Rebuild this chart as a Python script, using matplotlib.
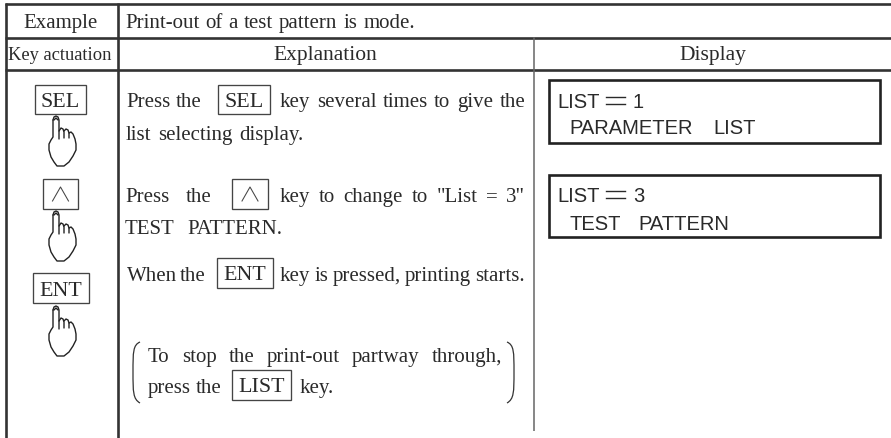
import matplotlib
matplotlib.use("Agg")
import matplotlib.pyplot as plt
from matplotlib.patches import Rectangle, PathPatch
from matplotlib.path import Path

SERIF = "Liberation Serif"
SANS = "Liberation Sans"
INK = "#2a2a2a"

# ---- content -------------------------------------------------------------
header_cells = [("Example", 60, 28, 15), ("Key actuation", 60, 60, 13.3),
                ("Explanation", 325.5, 60, 15.5), ("Display", 713, 60, 15.5)]
title_text = "Print-out of a test pattern is mode."
# text, x start, x end, baseline
body_runs = [
    (title_text, 125, 415, 28),
    ("Press the", 126, 201, 107),
    ("key several times to give the", 280, 525, 107),
    ("list selecting display.", 126, 304, 140),
    ("Press the", 125, 211, 202),
    ('key to change to "List = 3"', 280, 525, 202),
    ("TEST PATTERN.", 125, 282, 234),
    ("When the", 127, 205, 281),
    ("key is pressed, printing starts.", 280, 525, 281),
    ("To stop the print-out partway through,", 148, 502, 362),
    ("press the", 148, 222, 393),
    ("key.", 300, 335, 393),
]
# label, x0, x1, y0, y1
key_boxes = [
    ("SEL", 35, 86, 85, 114), ("^", 43, 78, 179, 209), ("ENT", 33, 89, 273, 303),
    ("SEL", 218, 270, 85, 114), ("^", 232, 268, 179, 209), ("ENT", 217, 273, 258, 288),
    ("LIST", 232, 291, 370, 400),
]
hand_tips = [(56, 117), (56, 212), (56, 307)]
display_boxes = [(549, 880, 80, 143), (549, 880, 175, 237)]
display_runs = [
    ("LIST", 557, 108), ("=", 606, 108), ("1", 633, 108), ("PARAMETER", 569, 134), ("LIST", 713, 134),
    ("LIST", 557, 202), ("=", 606, 202), ("3", 633, 202), ("TEST", 569, 230), ("PATTERN", 638, 230),
]
thick_h = [(5, 891, 4), (5, 891, 37.5), (5, 891, 69.5)]
thick_v = [(6, 3, 438), (118, 3, 438)]
thin_v = [(534, 37, 431)]

hand_outline = [(-3, 3), (-3, 20), (-5, 23), (-7, 27), (-7, 33), (-5, 40), (-2, 45), (1, 49), (8, 49),
                (13, 45), (17, 39), (20, 33), (20, 27), (19, 22), (17, 17), (15, 15), (13, 16), (13, 21)]
hand_finger = [(-3, 3), (-2, 0), (0, -1), (2, 0), (3, 3), (3, 22)]
hand_tip = [(-2, 3), (0, 1), (2, 3)]
hand_k1 = [(3, 14), (5, 11), (7, 12), (8, 15), (8, 21)]
hand_k2 = [(8, 14), (10, 12), (12, 13), (13, 16)]

# ---- figure --------------------------------------------------------------
fig = plt.figure(figsize=(8.91, 4.38), dpi=100)
ax = fig.add_axes([0, 0, 1, 1])
ax.set_xlim(0, 891)
ax.set_ylim(438, 0)
ax.axis("off")
renderer = fig.canvas.get_renderer()


def width_of(s, size, family):
    t = ax.text(0, 0, s, fontsize=size, family=family)
    w = t.get_window_extent(renderer).width
    t.remove()
    return w


def run(s, x0, x1, y, size=15.0, family=SERIF):
    words = s.split(" ")
    widths = [width_of(w, size, family) for w in words]
    gap = (x1 - x0 - sum(widths)) / max(len(words) - 1, 1)
    x = x0
    for w, wd in zip(words, widths):
        ax.text(x, y, w, fontsize=size, family=family, va="baseline", ha="left", color=INK)
        x += wd + gap


for x0, x1, y in thick_h:
    ax.plot([x0, x1], [y, y], color="#333333", lw=1.9, solid_capstyle="butt")
for x, y0, y1 in thick_v:
    ax.plot([x, x], [y0, y1], color="#333333", lw=1.9, solid_capstyle="butt")
for x, y0, y1 in thin_v:
    ax.plot([x, x], [y0, y1], color="#666666", lw=1.1, solid_capstyle="butt")

for s, cx, y, size in header_cells:
    ax.text(cx, y, s, fontsize=size, family=SERIF, ha="center", va="baseline", color=INK)
for s, x0, x1, y in body_runs:
    run(s, x0, x1, y)

for label, x0, x1, y0, y1 in key_boxes:
    ax.add_patch(Rectangle((x0, y0), x1 - x0, y1 - y0, fill=False, ec="#444444", lw=0.95))
    cx, cy = (x0 + x1) / 2, (y0 + y1) / 2
    if label == "^":
        ax.plot([cx - 8, cx, cx + 8], [cy + 7, cy - 7, cy + 7], color="#444444", lw=0.75)
    else:
        ax.text(cx, cy + 7.5, label, fontsize=15.8, family=SERIF, ha="center", va="baseline", color=INK)

for tx, ty in hand_tips:
    for pts in (hand_outline, hand_finger, hand_tip, hand_k1, hand_k2):
        ax.plot([tx + p[0] for p in pts], [ty + p[1] for p in pts], color="#222222", lw=1.0,
                solid_joinstyle="round", solid_capstyle="round")

for x0, x1, y0, y1 in display_boxes:
    ax.add_patch(Rectangle((x0, y0), x1 - x0, y1 - y0, fill=False, ec="#222222", lw=1.9))
for s, x, y in display_runs:
    if s == "=":
        ax.plot([x, x + 19], [y - 11, y - 11], color=INK, lw=1.0)
        ax.plot([x, x + 19], [y - 4, y - 4], color=INK, lw=1.0)
    else:
        ax.text(x, y, s, fontsize=14.5, family=SANS, va="baseline", ha="left", color=INK)

# large parentheses around the note
for x_edge, x_mid in ((140, 133), (507, 514)):
    verts = [(x_edge, 342), (x_mid, 345), (x_mid, 352), (x_mid, 372),
             (x_mid, 392), (x_mid, 399), (x_edge, 403)]
    codes = [Path.MOVETO, Path.CURVE4, Path.CURVE4, Path.CURVE4, Path.CURVE4, Path.CURVE4, Path.CURVE4]
    ax.add_patch(PathPatch(Path(verts, codes), fill=False, ec="#333333", lw=0.9))

fig.savefig("out.png", dpi=100)
